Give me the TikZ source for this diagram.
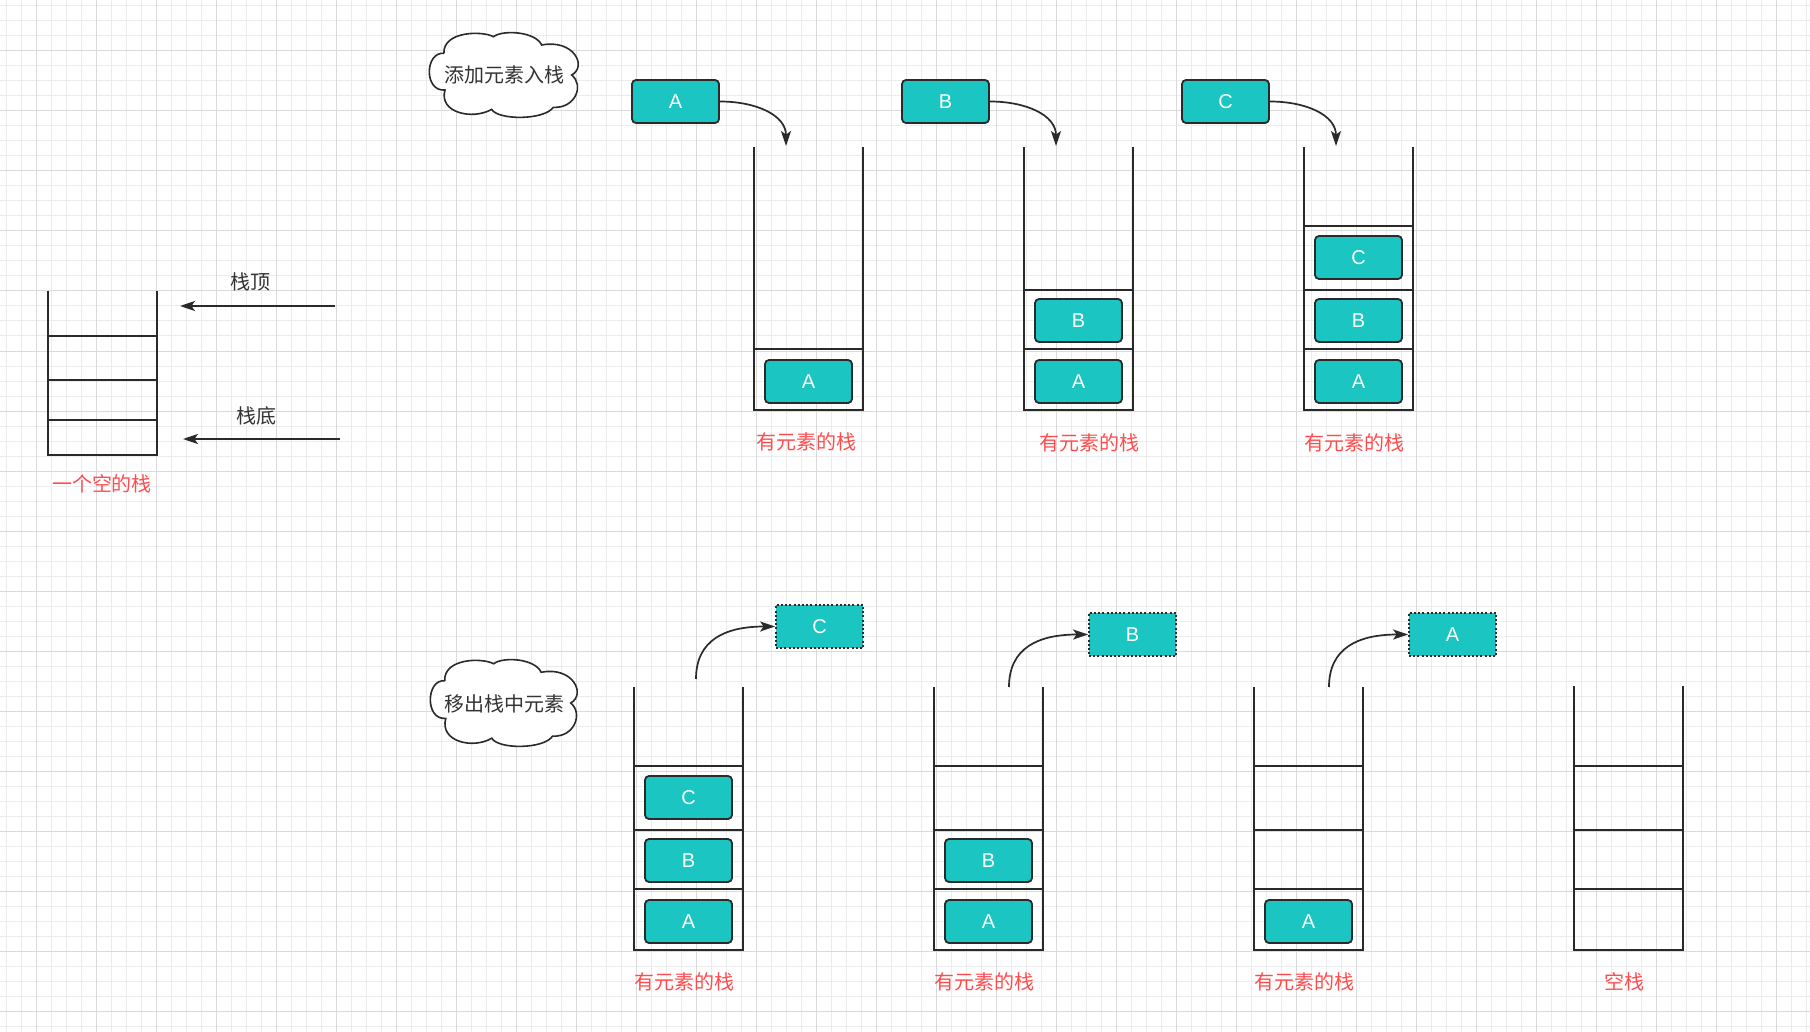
\documentclass[tikz,border=0pt]{standalone}
\usepackage{fontspec}
\setmainfont{Liberation Sans}
\newfontfamily\cjk{Noto Sans CJK SC}
\usetikzlibrary{arrows.meta}
\definecolor{cellfill}{HTML}{1BC5C1}
\definecolor{ink}{HTML}{2A2A2A}
\definecolor{txt}{HTML}{333333}
\definecolor{capred}{HTML}{FF4D4F}
\definecolor{gridlo}{HTML}{ECECEC}
\definecolor{gridhi}{HTML}{DADADA}
\begin{document}
\begin{tikzpicture}[x=0.5pt,y=-0.5pt,
  gridminor/.style={draw=gridlo, line width=0.5pt},
  gridmajor/.style={draw=gridhi, line width=0.5pt},
  wall/.style={draw=ink, line width=1.1pt},
  cell/.style={draw=ink, fill=cellfill, line width=0.9pt, rounded corners=2pt,
    minimum width=43.5pt, minimum height=21.5pt, inner sep=0pt, text=white,
    font=\fontsize{10}{12}\selectfont},
  ghost/.style={cell, rounded corners=0pt, dash pattern=on 1pt off 1.1pt},
  arr/.style={draw=ink, line width=0.85pt, -{Stealth[length=7.5pt,width=5pt,inset=1.8pt]}},
  note/.style={text=txt, font=\cjk\fontsize{10}{12}\selectfont, inner sep=0pt},
  caption/.style={text=capred, font=\cjk\fontsize{10}{12}\selectfont, inner sep=0pt},
  cloudline/.style={draw=ink, fill=white, line width=0.8pt}
]
% page and grid paper
\useasboundingbox (0,0) rectangle (1810,1032);
\fill[white] (0,0) rectangle (1810,1032);
\foreach \gx in {6,21,...,1806} \draw[gridminor] (\gx,0) -- (\gx,1032);
\foreach \gy in {6,21,...,1026} \draw[gridminor] (0,\gy) -- (1810,\gy);
\foreach \gx in {36,96,...,1776} \draw[gridmajor] (\gx,0) -- (\gx,1032);
\foreach \gy in {51,111,...,1011} \draw[gridmajor] (0,\gy) -- (1810,\gy);

% ---------- empty stack with top / bottom pointers ----------
\draw[wall] (48,291) -- (48,455) -- (157,455) -- (157,291);
\draw[wall] (48,336) -- (157,336) (48,380) -- (157,380) (48,420) -- (157,420);
\node[caption] (capE) at (102,484) {一个空的栈};
\coordinate (topFrom) at (335,306);
\coordinate (topTo) at (180,306);
\coordinate (botFrom) at (340,439);
\coordinate (botTo) at (183,439);
\draw[arr] (topFrom) -- (topTo);
\draw[arr] (botFrom) -- (botTo);
\node[note] (lblTop) at (250,282) {栈顶};
\node[note] (lblBot) at (256,416) {栈底};

% ---------- clouds (outline in unit box, scaled per cloud) ----------
\begin{scope}[shift={(428,33)}, xscale=149, yscale=84]
\draw[cloudline] (0.107,0.242)
  .. controls (-0.02,0.22) and (-0.03,0.70) .. (0.114,0.679)
  .. controls (0.07,0.95) and (0.30,1.04) .. (0.427,0.909)
  .. controls (0.47,1.04) and (0.78,1.04) .. (0.841,0.885)
  .. controls (0.99,0.90) and (1.05,0.62) .. (0.964,0.5)
  .. controls (1.07,0.40) and (0.98,0.07) .. (0.763,0.143)
  .. controls (0.72,-0.02) and (0.50,-0.04) .. (0.44,0.044)
  .. controls (0.36,-0.03) and (0.10,-0.02) .. cycle;
\end{scope}
\node[note] (cloudPush) at (504,75) {添加元素入栈};
\begin{scope}[shift={(429,660)}, xscale=147, yscale=86]
\draw[cloudline] (0.107,0.242)
  .. controls (-0.02,0.22) and (-0.03,0.70) .. (0.114,0.679)
  .. controls (0.07,0.95) and (0.30,1.04) .. (0.427,0.909)
  .. controls (0.47,1.04) and (0.78,1.04) .. (0.841,0.885)
  .. controls (0.99,0.90) and (1.05,0.62) .. (0.964,0.5)
  .. controls (1.07,0.40) and (0.98,0.07) .. (0.763,0.143)
  .. controls (0.72,-0.02) and (0.50,-0.04) .. (0.44,0.044)
  .. controls (0.36,-0.03) and (0.10,-0.02) .. cycle;
\end{scope}
\node[note] (cloudPop) at (504,704) {移出栈中元素};

% ---------- push: stack 1 ----------
\draw[wall] (754,147) -- (754,410) -- (863,410) -- (863,147);
\draw[wall] (754,349) -- (863,349);
\node[cell] (s1a) at (808.5,381.5) {A};
\node[cell] (inA) at (675.5,101.5) {A};
\coordinate (s1in) at (786,146);
\draw[arr] (inA.east) .. controls +(36,0) and +(0,-31) .. (s1in);
\node[caption] (cap1) at (806,442) {有元素的栈};

% ---------- push: stack 2 ----------
\draw[wall] (1024,147) -- (1024,410) -- (1133,410) -- (1133,147);
\draw[wall] (1024,290) -- (1133,290) (1024,349) -- (1133,349);
\node[cell] (s2b) at (1078.5,320.5) {B};
\node[cell] (s2a) at (1078.5,381.5) {A};
\node[cell] (inB) at (945.5,101.5) {B};
\coordinate (s2in) at (1056,146);
\draw[arr] (inB.east) .. controls +(36,0) and +(0,-31) .. (s2in);
\node[caption] (cap2) at (1089,443) {有元素的栈};

% ---------- push: stack 3 ----------
\draw[wall] (1304,147) -- (1304,410) -- (1413,410) -- (1413,147);
\draw[wall] (1304,226) -- (1413,226) (1304,290) -- (1413,290) (1304,349) -- (1413,349);
\node[cell] (s3c) at (1358.5,257.5) {C};
\node[cell] (s3b) at (1358.5,320.5) {B};
\node[cell] (s3a) at (1358.5,381.5) {A};
\node[cell] (inC) at (1225.5,101.5) {C};
\coordinate (s3in) at (1336,146);
\draw[arr] (inC.east) .. controls +(36,0) and +(0,-31) .. (s3in);
\node[caption] (cap3) at (1354,443) {有元素的栈};

% ---------- pop: stack 4 ----------
\draw[wall] (634,687) -- (634,950) -- (743,950) -- (743,687);
\draw[wall] (634,766) -- (743,766) (634,830) -- (743,830) (634,889) -- (743,889);
\node[cell] (s4c) at (688.5,797.5) {C};
\node[cell] (s4b) at (688.5,860.5) {B};
\node[cell] (s4a) at (688.5,921.5) {A};
\node[ghost] (outC) at (819.5,626.5) {C};
\coordinate (s4out) at (696,679);
\draw[arr] (s4out) .. controls +(0,-39) and +(-50,0) .. (outC.west);
\node[caption] (cap4) at (684,982) {有元素的栈};

% ---------- pop: stack 5 ----------
\draw[wall] (934,687) -- (934,950) -- (1043,950) -- (1043,687);
\draw[wall] (934,766) -- (1043,766) (934,830) -- (1043,830) (934,889) -- (1043,889);
\node[cell] (s5b) at (988.5,860.5) {B};
\node[cell] (s5a) at (988.5,921.5) {A};
\node[ghost] (outB) at (1132.5,634.5) {B};
\coordinate (s5out) at (1009,687);
\draw[arr] (s5out) .. controls +(0,-39) and +(-50,0) .. (outB.west);
\node[caption] (cap5) at (984,982) {有元素的栈};

% ---------- pop: stack 6 ----------
\draw[wall] (1254,687) -- (1254,950) -- (1363,950) -- (1363,687);
\draw[wall] (1254,766) -- (1363,766) (1254,830) -- (1363,830) (1254,889) -- (1363,889);
\node[cell] (s6a) at (1308.5,921.5) {A};
\node[ghost] (outA) at (1452.5,634.5) {A};
\coordinate (s6out) at (1329,687);
\draw[arr] (s6out) .. controls +(0,-39) and +(-50,0) .. (outA.west);
\node[caption] (cap6) at (1304,982) {有元素的栈};

% ---------- pop: stack 7 (empty) ----------
\draw[wall] (1574,686) -- (1574,950) -- (1683,950) -- (1683,686);
\draw[wall] (1574,766) -- (1683,766) (1574,830) -- (1683,830) (1574,889) -- (1683,889);
\node[caption] (cap7) at (1624,982) {空栈};
\end{tikzpicture}
\end{document}
